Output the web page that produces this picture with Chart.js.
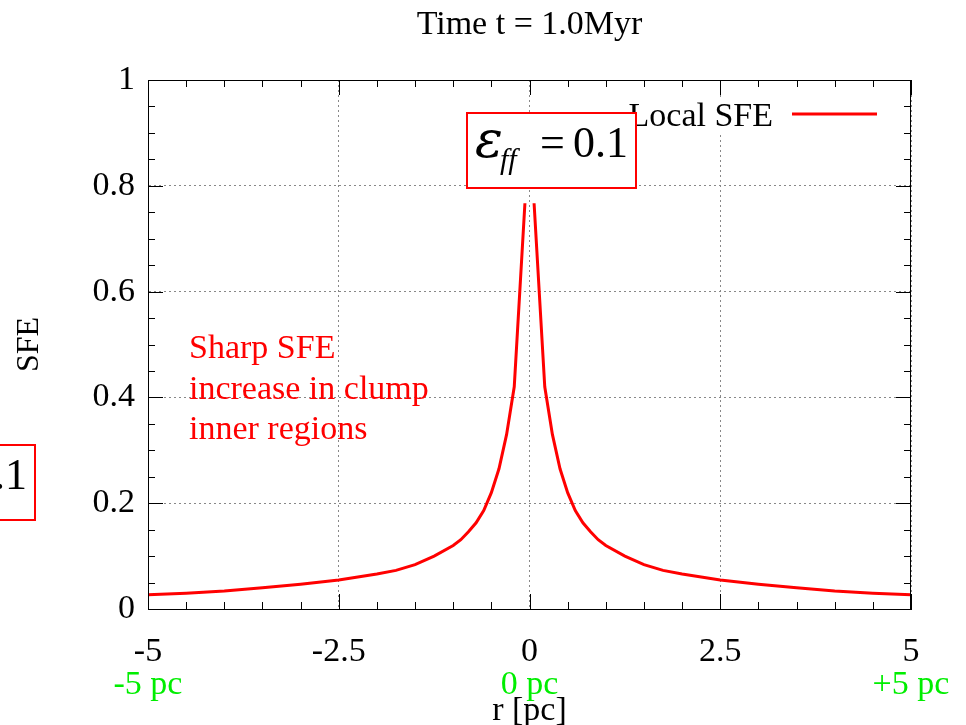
<!DOCTYPE html>
<html>
<head>
<meta charset="utf-8">
<script src="https://cdn.jsdelivr.net/npm/chart.js@4.4.1/dist/chart.umd.min.js"></script>
<style>
  html, body { margin: 0; padding: 0; background: #fff; }
  #wrap { width: 966px; height: 725px; }
</style>
</head>
<body>
<div id="wrap"><canvas id="chart_localSfe"></canvas></div>
<script>
// radius [pc] and local SFE (no point at r = 0, the curve has a gap there)
var rValues = [-5, -4.5, -4, -3.5, -3, -2.5, -2, -1.75, -1.5, -1.25, -1, -0.9, -0.8, -0.7, -0.6, -0.5, -0.4, -0.3, -0.2, -0.06,
               0,
               0.06, 0.2, 0.3, 0.4, 0.5, 0.6, 0.7, 0.8, 0.9, 1, 1.25, 1.5, 1.75, 2, 2.5, 3, 3.5, 4, 4.5, 5];
var sfeValues = [0.027, 0.030, 0.034, 0.040, 0.047, 0.055, 0.066, 0.073, 0.084, 0.100, 0.120, 0.131, 0.146, 0.163, 0.186, 0.22, 0.265, 0.33, 0.42, 0.767,
                 null,
                 0.767, 0.42, 0.33, 0.265, 0.22, 0.186, 0.163, 0.146, 0.131, 0.120, 0.100, 0.084, 0.073, 0.066, 0.055, 0.047, 0.040, 0.034, 0.030, 0.027];

var seriesLabel = 'Local SFE';
var chartTitle = 'Time t = 1.0Myr';
var xTitle = 'r [pc]';
var yTitle = 'SFE';
var pcTickValues = [-5, 0, 5];
var pcTickLabels = ['-5 pc', '0 pc', '+5 pc'];
var noteLines = ['Sharp SFE', 'increase in clump', 'inner regions'];

var fontFamily = '"Liberation Serif", "Times New Roman", serif';
var textSize = 34;

var points = rValues.map(function (r, i) { return { x: r, y: sfeValues[i] }; });

function drawEpsBox(ctx, x, y) {
    ctx.fillStyle = '#fff';
    ctx.fillRect(x, y, 169, 75);
    ctx.strokeStyle = '#ff0000';
    ctx.lineWidth = 2;
    ctx.strokeRect(x, y, 169, 75);
    ctx.fillStyle = '#000';
    ctx.textAlign = 'left';
    ctx.textBaseline = 'alphabetic';
    ctx.font = 'italic 52px "DejaVu Serif", ' + fontFamily;
    ctx.fillText('\u03B5', x + 8, y + 44);
    ctx.font = 'italic 30px ' + fontFamily;
    ctx.fillText('ff', x + 33, y + 56);
    ctx.font = '44px ' + fontFamily;
    ctx.fillText('=', x + 73, y + 44);
    ctx.textAlign = 'right';
    ctx.fillText('0.1', x + 161, y + 44);
}

var gnuplotOverlay = {
    id: 'gnuplotOverlay',
    afterDraw: function (chart) {
        var ctx = chart.ctx, a = chart.chartArea;
        var xs = chart.scales.x, ys = chart.scales.y;
        ctx.save();

        // frame + inward ticks on all four sides
        ctx.strokeStyle = '#000';
        ctx.lineWidth = 1;
        ctx.strokeRect(a.left + 0.5, a.top + 0.5, a.right - a.left - 1, a.bottom - a.top);
        ctx.beginPath();
        for (var i = 0; i <= 20; i++) {
            var px = Math.round(xs.getPixelForValue(-5 + i * 0.5)) + 0.5;
            var len = (i % 5 === 0) ? 15 : 7;
            ctx.moveTo(px, a.bottom); ctx.lineTo(px, a.bottom - len);
            ctx.moveTo(px, a.top); ctx.lineTo(px, a.top + len);
        }
        for (var j = 0; j <= 20; j++) {
            var py = Math.round(ys.getPixelForValue(j * 0.05)) + 0.5;
            var ylen = (j % 4 === 0) ? 15 : 7;
            ctx.moveTo(a.left, py); ctx.lineTo(a.left + ylen, py);
            ctx.moveTo(a.right, py); ctx.lineTo(a.right - ylen, py);
        }
        ctx.stroke();

        // title
        ctx.fillStyle = '#000';
        ctx.font = textSize + 'px ' + fontFamily;
        ctx.textAlign = 'center';
        ctx.textBaseline = 'alphabetic';
        ctx.fillText(chartTitle, (a.left + a.right) / 2, 34);

        // gnuplot style key: text then line sample
        ctx.fillStyle = '#fff';
        ctx.fillRect(624, 97, 258, 36);
        ctx.fillStyle = '#000';
        ctx.textAlign = 'right';
        ctx.fillText(seriesLabel, 773, 126);
        ctx.strokeStyle = '#ff0000';
        ctx.lineWidth = 3;
        ctx.beginPath();
        ctx.moveTo(792, 114); ctx.lineTo(877, 114);
        ctx.stroke();

        // epsilon labels (one cut off at the left edge)
        drawEpsBox(ctx, 467, 113);
        drawEpsBox(ctx, -134, 445);

        // red note
        ctx.fillStyle = '#ff0000';
        ctx.font = textSize + 'px ' + fontFamily;
        ctx.textAlign = 'left';
        noteLines.forEach(function (t, k) {
            ctx.fillText(t, 189, 358 + k * 40.5);
        });
        ctx.restore();
    }
};

var chart_localSfe = new Chart(document.getElementById('chart_localSfe'), {
    type: 'line',
    data: {
        datasets: [{
            label: seriesLabel,
            data: points,
            borderColor: '#ff0000',
            borderWidth: 3,
            pointRadius: 0,
            tension: 0,
            spanGaps: false,
            fill: false
        }]
    },
    options: {
        animation: false,
        responsive: true,
        maintainAspectRatio: false,
        layout: { padding: { top: 80, right: 55, left: 0, bottom: 0 } },
        plugins: {
            legend: { display: false },
            title: { display: false },
            tooltip: { enabled: false }
        },
        scales: {
            x: {
                type: 'linear',
                position: 'bottom',
                min: -5,
                max: 5,
                weight: 0,
                afterFit: function (s) { s.height = 56; },
                ticks: {
                    stepSize: 2.5,
                    autoSkip: false,
                    maxRotation: 0,
                    padding: 23,
                    color: '#000',
                    font: { family: fontFamily, size: textSize }
                },
                grid: { color: '#888', lineWidth: 1, drawTicks: false },
                border: { display: true, color: '#000', width: 1, dash: [2, 3] }
            },
            x2: {
                type: 'linear',
                position: 'bottom',
                min: -5,
                max: 5,
                weight: 1,
                afterFit: function (s) { s.height = 60; },
                afterBuildTicks: function (s) {
                    s.ticks = pcTickValues.map(function (v) { return { value: v }; });
                },
                ticks: {
                    autoSkip: false,
                    maxRotation: 0,
                    padding: 0,
                    color: '#00ee00',
                    font: { family: fontFamily, size: textSize },
                    callback: function (v, i) { return pcTickLabels[i]; }
                },
                grid: { display: false, drawTicks: false },
                border: { display: false },
                title: {
                    display: true,
                    text: xTitle,
                    color: '#000',
                    padding: 0,
                    font: { family: fontFamily, size: textSize, lineHeight: 0.8 }
                }
            },
            y: {
                type: 'linear',
                min: 0,
                max: 1,
                afterFit: function (s) { s.width = 148; },
                ticks: {
                    stepSize: 0.2,
                    padding: 13,
                    color: '#000',
                    font: { family: fontFamily, size: textSize },
                    callback: function (v) { return String(Math.round(v * 10) / 10); }
                },
                grid: { color: '#888', lineWidth: 1, drawTicks: false },
                border: { display: true, color: '#000', width: 1, dash: [2, 3] },
                title: {
                    display: true,
                    text: yTitle,
                    color: '#000',
                    padding: { top: 10, bottom: 0 },
                    font: { family: fontFamily, size: 32 }
                }
            }
        }
    },
    plugins: [gnuplotOverlay]
});
</script>
</body>
</html>
